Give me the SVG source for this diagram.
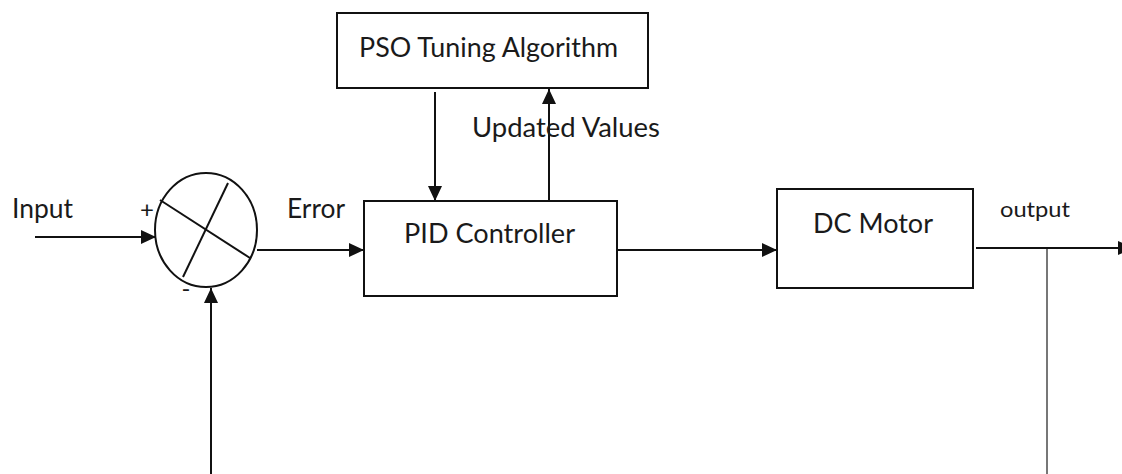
<svg xmlns="http://www.w3.org/2000/svg" width="1122" height="474" viewBox="0 0 1122 474">
  <style>
    .box { fill: #fff; stroke: #111; stroke-width: 2; }
    .wire { fill: none; stroke: #111; stroke-width: 2; }
    .lbl { font-family: Lato, "Open Sans", sans-serif; fill: #1a1a1a; font-size: 27px; }
  </style>
  <defs>
    <marker id="arrow" viewBox="0 0 15 14" refX="15" refY="7" markerWidth="15" markerHeight="14" markerUnits="userSpaceOnUse" orient="auto">
      <path d="M0,0 L15,7 L0,14 z" fill="#111"/>
    </marker>
  </defs>

  <rect width="1122" height="474" fill="#fff"/>

  <!-- connectors -->
  <g id="connectors">
    <line class="wire" x1="35" y1="237" x2="156" y2="237" marker-end="url(#arrow)"/>
    <line class="wire" x1="257" y1="250" x2="364" y2="250" marker-end="url(#arrow)"/>
    <line class="wire" x1="435" y1="92" x2="435" y2="201" marker-end="url(#arrow)"/>
    <line class="wire" x1="549" y1="201" x2="549" y2="89" marker-end="url(#arrow)"/>
    <line class="wire" x1="617" y1="250" x2="777" y2="250" marker-end="url(#arrow)"/>
    <line class="wire" x1="976" y1="248" x2="1133" y2="248" marker-end="url(#arrow)"/>
    <line x1="1047" y1="249" x2="1047" y2="474" stroke="#777" stroke-width="2"/>
    <line class="wire" x1="211" y1="474" x2="211" y2="288" marker-end="url(#arrow)"/>
  </g>

  <!-- summing junction -->
  <g id="sum">
    <ellipse class="box" cx="206" cy="230" rx="51" ry="57"/>
    <line class="wire" x1="160" y1="200" x2="250" y2="258"/>
    <line class="wire" x1="228" y1="183" x2="183" y2="277"/>
    <text class="lbl" x="147" y="218" style="font-size:24px" text-anchor="middle">+</text>
    <text class="lbl" x="186" y="297" style="font-size:24px" text-anchor="middle">-</text>
  </g>

  <g id="pso">
    <rect class="box" x="337" y="13" width="311" height="75"/>
    <text class="lbl" x="359" y="57" textLength="259" lengthAdjust="spacingAndGlyphs">PSO Tuning Algorithm</text>
  </g>

  <g id="pid">
    <rect class="box" x="364" y="201" width="253" height="95"/>
    <text class="lbl" x="404" y="243" textLength="171" lengthAdjust="spacingAndGlyphs">PID Controller</text>
  </g>

  <g id="motor">
    <rect class="box" x="777" y="189" width="196" height="99"/>
    <text class="lbl" x="813" y="233" textLength="120" lengthAdjust="spacingAndGlyphs">DC Motor</text>
  </g>

  <!-- signal labels -->
  <g id="labels">
    <text class="lbl" x="12" y="218" textLength="61" lengthAdjust="spacingAndGlyphs">Input</text>
    <text class="lbl" x="287" y="218" textLength="58" lengthAdjust="spacingAndGlyphs">Error</text>
    <text class="lbl" x="472" y="137" textLength="188" lengthAdjust="spacingAndGlyphs">Updated Values</text>
    <text class="lbl" x="1000" y="217" style="font-size:22px" textLength="70" lengthAdjust="spacingAndGlyphs">output</text>
  </g>
</svg>
